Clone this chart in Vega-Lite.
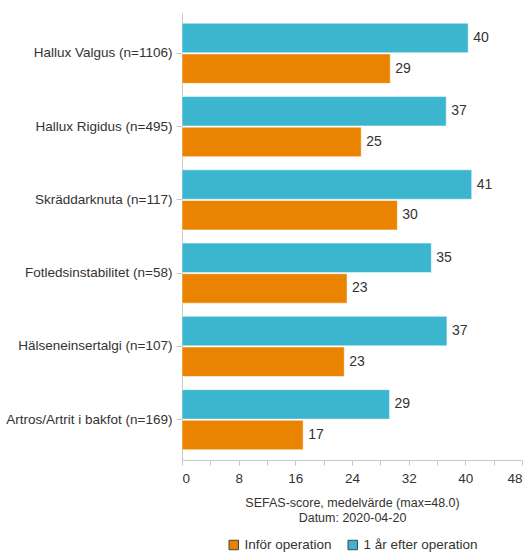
{
  "$schema": "https://vega.github.io/schema/vega-lite/v6.json",
  "width": 340,
  "height": 447,
  "padding": {"top": 13, "left": 5, "right": 5, "bottom": 0},
  "background": "white",
  "config": {
    "font": "Liberation Sans",
    "view": {"stroke": null},
    "axis": {"labelFont": "Liberation Sans", "titleFont": "Liberation Sans", "labelColor": "#333333", "titleColor": "#333333", "domainColor": "#c8c8c8", "tickColor": "#c8c8c8", "labelFontSize": 13, "titleFontSize": 12.5, "titleFontWeight": "normal", "grid": false},
    "legend": {"layout": {"bottom": {"anchor": "middle"}}}
  },
  "data": {
    "values": [
      {"kategori": "Hallux Valgus (n=1106)", "serie": "1 år efter operation", "varde": 40.4},
      {"kategori": "Hallux Valgus (n=1106)", "serie": "Inför operation", "varde": 29.4},
      {"kategori": "Hallux Rigidus (n=495)", "serie": "1 år efter operation", "varde": 37.3},
      {"kategori": "Hallux Rigidus (n=495)", "serie": "Inför operation", "varde": 25.3},
      {"kategori": "Skräddarknuta (n=117)", "serie": "1 år efter operation", "varde": 40.9},
      {"kategori": "Skräddarknuta (n=117)", "serie": "Inför operation", "varde": 30.4},
      {"kategori": "Fotledsinstabilitet (n=58)", "serie": "1 år efter operation", "varde": 35.2},
      {"kategori": "Fotledsinstabilitet (n=58)", "serie": "Inför operation", "varde": 23.3},
      {"kategori": "Hälseneinsertalgi (n=107)", "serie": "1 år efter operation", "varde": 37.4},
      {"kategori": "Hälseneinsertalgi (n=107)", "serie": "Inför operation", "varde": 22.9},
      {"kategori": "Artros/Artrit i bakfot (n=169)", "serie": "1 år efter operation", "varde": 29.3},
      {"kategori": "Artros/Artrit i bakfot (n=169)", "serie": "Inför operation", "varde": 17.1}
    ]
  },
  "encoding": {
    "y": {
      "field": "kategori", "type": "nominal", "sort": null,
      "scale": {"paddingInner": 0.18, "paddingOuter": 0.14},
      "axis": {"title": null, "ticks": true, "tickSize": 6, "labelPadding": 4, "labelFontSize": 13.5}
    },
    "yOffset": {
      "field": "serie", "type": "nominal",
      "sort": ["1 år efter operation", "Inför operation"],
      "scale": {"paddingInner": 0.04}
    },
    "x": {
      "field": "varde", "type": "quantitative",
      "scale": {"domain": [0, 48], "nice": false},
      "axis": {
        "values": [0, 4, 8, 12, 16, 20, 24, 28, 32, 36, 40, 44, 48],
        "labelExpr": "datum.value % 8 == 0 ? datum.label : ''",
        "tickSize": 5, "labelPadding": 6, "labelFontSize": 13.5,
        "title": ["SEFAS-score, medelvärde (max=48.0)", "Datum: 2020-04-20"],
        "titlePadding": 12, "titleLineHeight": 15
      }
    }
  },
  "layer": [
    {
      "mark": {"type": "bar", "stroke": "#ffffff", "strokeOpacity": 0.5, "strokeWidth": 1},
      "encoding": {
        "color": {
          "field": "serie", "type": "nominal",
          "scale": {"domain": ["Inför operation", "1 år efter operation"], "range": ["#e98300", "#3cb6ce"]},
          "legend": {"title": null, "orient": "bottom", "direction": "horizontal", "symbolType": "square", "symbolSize": 90, "symbolStrokeColor": "#444444", "symbolStrokeWidth": 1, "labelFontSize": 13.5, "labelColor": "#333333", "columnPadding": 14, "offset": 14}
        }
      }
    },
    {
      "mark": {"type": "text", "align": "left", "dx": 5, "fontSize": 14, "color": "#333333"},
      "encoding": {"text": {"field": "varde", "type": "quantitative", "format": ".0f"}}
    }
  ]
}
